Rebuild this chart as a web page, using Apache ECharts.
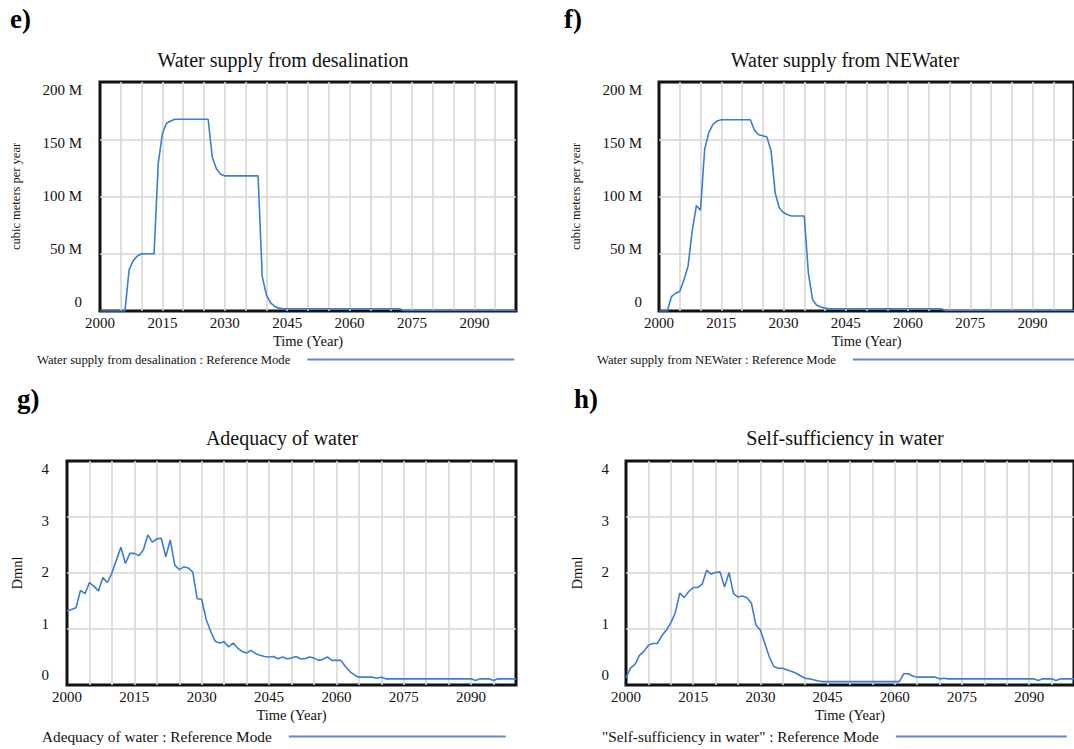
<!DOCTYPE html>
<html>
<head>
<meta charset="utf-8">
<script src="https://cdn.jsdelivr.net/npm/echarts@6/dist/echarts.min.js"></script>
<style>html,body{margin:0;padding:0;background:#fff}#c{width:1074px;height:749px}</style>
</head>
<body>
<div id="c"></div>
<script>
// ---------- DATA ----------
const xTickLabels = [2000, 2015, 2030, 2045, 2060, 2075, 2090];
const supplyTicks = [0, 50, 100, 150, 200];   // million cubic meters per year
const dmnlTicks = [0, 1, 2, 3, 4];

// e) Water supply from desalination (million m3/yr)
const desalYears  = [2000, 2006, 2007, 2008, 2009, 2010, 2013, 2014, 2015, 2016, 2017, 2018, 2026, 2027, 2028, 2029, 2030, 2038, 2039, 2040, 2041, 2042, 2043, 2044, 2072, 2073, 2100];
const desalValues = [0, 0, 36, 44, 48, 50, 50, 129, 155, 164, 166, 167.5, 167.5, 134, 124, 119.5, 118, 118, 30, 14, 7, 4, 2.5, 2, 2, 0.4, 0.4];

// f) Water supply from NEWater (million m3/yr)
const newYears  = [2000, 2002, 2003, 2004, 2005, 2006, 2007, 2008, 2009, 2010, 2011, 2012, 2013, 2014, 2015, 2022, 2023, 2024, 2025, 2026, 2027, 2028, 2029, 2030, 2031, 2032, 2035, 2036, 2037, 2038, 2039, 2040, 2041, 2068, 2069, 2100];
const newValues = [0, 0, 12.5, 15.5, 17, 27, 39, 70, 92, 88, 141, 156, 163, 166, 167, 167, 158, 154, 153, 152, 140, 103, 90, 86, 84, 83, 83, 33, 10, 5, 3.5, 2.5, 2, 2, 0.4, 0.4];

// g) Adequacy of water (Dmnl)
const adequacyYears = [2000,2001,2002,2003,2004,2005,2006,2007,2008,2009,2010,2011,2012,2013,2014,2015,2016,2017,2018,2019,2020,2021,2022,2023,2024,2025,2026,2027,2028,2029,2030,2031,2032,2033,2034,2035,2036,2037,2038,2039,2040,2041,2042,2043,2044,2045,2046,2047,2048,2049,2050,2051,2052,2053,2054,2055,2056,2057,2058,2059,2060,2061,2062,2063,2064,2065,2066,2067,2068,2069,2070,2071,2090,2091,2092,2094,2095,2096,2100];
const adequacyValues = [1.32,1.35,1.38,1.69,1.63,1.83,1.76,1.68,1.92,1.83,2.0,2.23,2.46,2.17,2.35,2.35,2.31,2.41,2.68,2.55,2.61,2.62,2.29,2.59,2.14,2.06,2.11,2.09,2.02,1.54,1.53,1.17,0.96,0.78,0.75,0.77,0.68,0.75,0.66,0.60,0.57,0.62,0.56,0.53,0.51,0.50,0.51,0.47,0.50,0.47,0.48,0.51,0.47,0.47,0.50,0.48,0.44,0.46,0.50,0.44,0.44,0.44,0.33,0.24,0.18,0.14,0.14,0.14,0.14,0.12,0.14,0.11,0.11,0.08,0.11,0.11,0.08,0.11,0.11];

// h) Self-sufficiency in water (Dmnl)
const selfYears = [2000,2001,2002,2003,2004,2005,2006,2007,2008,2009,2010,2011,2012,2013,2014,2015,2016,2017,2018,2019,2020,2021,2022,2023,2024,2025,2026,2027,2028,2029,2030,2031,2032,2033,2034,2035,2036,2037,2038,2039,2040,2041,2042,2043,2044,2061,2062,2063,2064,2065,2066,2067,2068,2069,2070,2071,2072,2091,2092,2093,2095,2096,2097,2100];
const selfValues = [0.13,0.30,0.37,0.53,0.60,0.71,0.74,0.74,0.88,0.98,1.11,1.29,1.64,1.56,1.67,1.74,1.74,1.80,2.05,1.98,2.01,2.02,1.75,2.01,1.63,1.57,1.59,1.56,1.46,1.07,0.98,0.74,0.50,0.33,0.30,0.30,0.27,0.24,0.21,0.16,0.12,0.11,0.09,0.07,0.06,0.06,0.20,0.20,0.16,0.14,0.14,0.14,0.14,0.14,0.11,0.12,0.11,0.11,0.08,0.11,0.11,0.08,0.11,0.11];

// ---------- LAYOUT / STYLE ----------
const FONT = "'Liberation Serif','Times New Roman',serif";
const LINE_COLOR = '#3b7dd6';
const LEGEND_COLOR = '#6688d4';
const GRID_COLOR = '#d6d6d6';

const panels = [
  { tag: 'e)', title: 'Water supply from desalination', years: desalYears, values: desalValues, ticks: supplyTicks, unitM: true,
    yName: 'cubic meters per year', yNameSize: 12.5, yNameGap: 78,
    plot: {left: 100, top: 82, width: 416, height: 229}, lab: {left: 86, top: 90, height: 212},
    titlePos: [283, 50], tagPos: [10, 5],
    legend: {left: 37, top: 353, w: 207, size: 12.7, name: 'Water supply from desalination : Reference Mode'} },
  { tag: 'f)', title: 'Water supply from NEWater', years: newYears, values: newValues, ticks: supplyTicks, unitM: true,
    yName: 'cubic meters per year', yNameSize: 12.5, yNameGap: 77,
    plot: {left: 659, top: 82, width: 417, height: 229}, lab: {left: 646, top: 90, height: 212},
    titlePos: [845, 50], tagPos: [564, 5],
    legend: {left: 597, top: 353, w: 224, size: 12.7, name: 'Water supply from NEWater : Reference Mode'} },
  { tag: 'g)', title: 'Adequacy of water', years: adequacyYears, values: adequacyValues, ticks: dmnlTicks, unitM: false,
    yName: 'Dmnl', yNameSize: 14.5, yNameGap: 43,
    plot: {left: 67, top: 461, width: 449, height: 224}, lab: {left: 53, top: 469, height: 206},
    titlePos: [282, 428], tagPos: [17, 385],
    legend: {left: 42, top: 729, w: 217, size: 15.3, name: 'Adequacy of water : Reference Mode'} },
  { tag: 'h)', title: 'Self-sufficiency in water', years: selfYears, values: selfValues, ticks: dmnlTicks, unitM: false,
    yName: 'Dmnl', yNameSize: 14.5, yNameGap: 42,
    plot: {left: 626, top: 461, width: 450, height: 224}, lab: {left: 613, top: 469, height: 206},
    titlePos: [845, 428], tagPos: [574, 385],
    legend: {left: 602, top: 729, w: 171, size: 15.3, name: '"Self-sufficiency in water" : Reference Mode'} }
];

const option = {
  animation: false,
  backgroundColor: '#fff',
  title: [], grid: [], xAxis: [], yAxis: [], series: [], legend: []
};

panels.forEach((p, i) => {
  const yMin = p.ticks[0], yMax = p.ticks[p.ticks.length - 1], yInt = p.ticks[1] - p.ticks[0];
  const yFmt = v => (p.unitM && v !== 0) ? v + ' M' : String(v);
  option.grid.push({ left: p.plot.left, top: p.plot.top, width: p.plot.width, height: p.plot.height,
    show: true, borderColor: '#111', borderWidth: 3, backgroundColor: 'transparent' });
  option.grid.push({ left: p.lab.left, top: p.lab.top, width: 10, height: p.lab.height, show: false });
  const gMain = i * 2, gLab = i * 2 + 1;
  option.xAxis.push({
    gridIndex: gMain, type: 'value', min: 2000, max: 2100, interval: 5,
    axisLine: {show: false}, axisTick: {show: false},
    axisLabel: { margin: 4, color: '#111', fontFamily: FONT, fontSize: 15,
      formatter: v => xTickLabels.indexOf(v) >= 0 ? String(v) : '' , showMaxLabel: false},
    splitLine: { show: true, showMinLine: false, showMaxLine: false, lineStyle: {color: GRID_COLOR, width: 1.6} },
    name: 'Time (Year)', nameLocation: 'middle', nameGap: 22,
    nameTextStyle: { color: '#111', fontFamily: FONT, fontSize: 14.5 }
  });
  option.xAxis.push({ gridIndex: gLab, type: 'value', show: false, min: 0, max: 1 });
  option.yAxis.push({
    gridIndex: gMain, type: 'value', min: yMin, max: yMax, interval: yInt,
    axisLine: {show: false}, axisTick: {show: false}, axisLabel: {show: false},
    splitLine: { show: true, showMinLine: false, showMaxLine: false, lineStyle: {color: GRID_COLOR, width: 1.6} },
    name: p.yName, nameLocation: 'middle', nameRotate: 90, nameGap: p.yNameGap,
    nameTextStyle: { color: '#111', fontFamily: FONT, fontSize: p.yNameSize }
  });
  option.yAxis.push({
    gridIndex: gLab, type: 'value', min: yMin, max: yMax, interval: yInt,
    axisLine: {show: false}, axisTick: {show: false}, splitLine: {show: false},
    axisLabel: { margin: 4, color: '#111', fontFamily: FONT, fontSize: 15, formatter: yFmt }
  });
  option.series.push({
    name: p.legend.name, type: 'line', xAxisIndex: gMain, yAxisIndex: gMain,
    data: p.years.map((y, k) => [y, p.values[k]]),
    showSymbol: false, symbol: 'none', smooth: false,
    lineStyle: { color: LINE_COLOR, width: 1.6 },
    itemStyle: { color: LEGEND_COLOR },
    z: 3
  });
  option.legend.push({
    left: p.legend.left, top: p.legend.top, padding: 0, align: 'right', orient: 'horizontal',
    icon: 'rect', itemWidth: p.legend.w, itemHeight: 2, selectedMode: false,
    data: [p.legend.name],
    itemStyle: { color: LEGEND_COLOR },
    textStyle: { color: '#111', fontFamily: FONT, fontSize: p.legend.size, padding: [0, 12, 0, 0] }
  });
  option.title.push({
    text: p.title, left: p.titlePos[0], top: p.titlePos[1], textAlign: 'center', padding: 0,
    textStyle: { color: '#111', fontFamily: FONT, fontSize: 20, fontWeight: 'normal' }
  });
  option.title.push({
    text: p.tag, left: p.tagPos[0], top: p.tagPos[1], padding: 0,
    textStyle: { color: '#000', fontFamily: FONT, fontSize: 27, fontWeight: 'bold' }
  });
});

const chart = echarts.init(document.getElementById('c'), null, { renderer: 'svg', width: 1074, height: 749 });
chart.setOption(option);
</script>
</body>
</html>
